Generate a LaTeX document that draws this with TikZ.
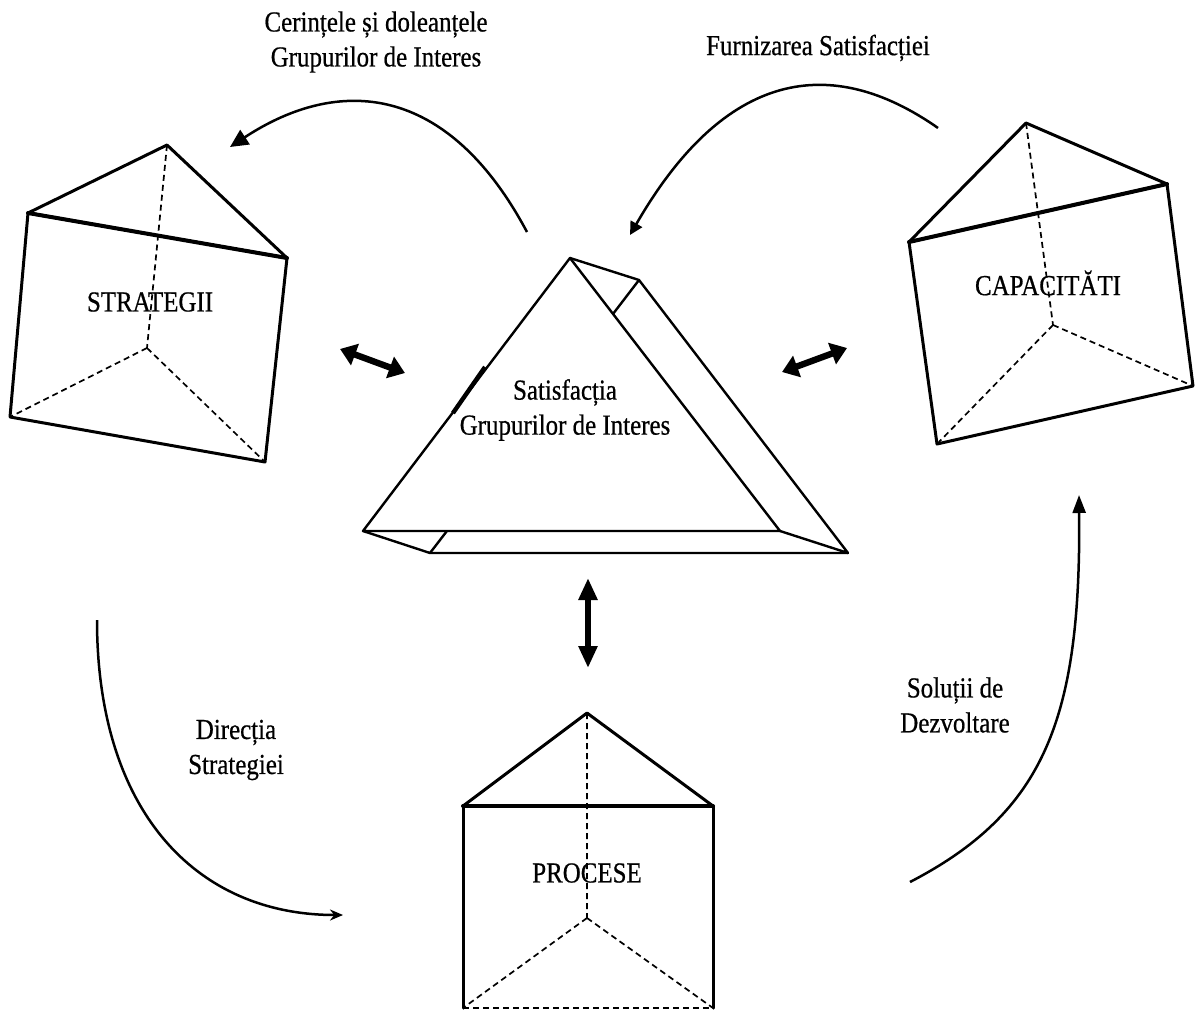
\documentclass[tikz,border=0pt]{standalone}
\usepackage{fontspec}
\setmainfont{Liberation Serif}[FakeStretch=0.86,FakeBold=0.6]
\usetikzlibrary{arrows.meta}

\begin{document}
\begin{tikzpicture}[x=0.5pt,y=-0.5pt,
  edge/.style={line width=1.5pt, line join=round, line cap=round},
  thinedge/.style={line width=1.2pt, line join=round, line cap=round},
  hidden/.style={line width=0.85pt, dash pattern=on 3pt off 2pt},
  lbl/.style={font=\fontsize{14.5}{17.5}\selectfont, align=center, inner sep=0pt},
  flow/.style={line width=1.25pt},
  link/.style={line width=3.2pt,
    {Triangle[length=8pt,width=11pt]}-{Triangle[length=8pt,width=11pt]}}]
\useasboundingbox (0,0) rectangle (1198,1011);

% ---------- STRATEGII prism ----------
\coordinate (sA)  at (167,145);
\coordinate (sL)  at (28,213);
\coordinate (sR)  at (287,258);
\coordinate (sBL) at (10,417);
\coordinate (sBR) at (265,462);
\coordinate (sB)  at (147,348);
\draw[hidden] (sA) -- (sB) (sB) -- (sBL) (sB) -- (sBR);
\draw[edge] (sA) -- (sL) -- (sR) -- cycle;
\draw[edge] (sR) -- (sBR) -- (sBL) -- (sL);
\draw[line width=2pt, line cap=round] (sL) -- (sR);

% ---------- CAPACITATI prism ----------
\coordinate (cA)  at (1026,123);
\coordinate (cL)  at (909,242);
\coordinate (cR)  at (1167,184);
\coordinate (cBL) at (937,444);
\coordinate (cBR) at (1193,386);
\coordinate (cB)  at (1053,325);
\draw[hidden] (cA) -- (cB) (cB) -- (cBL) (cB) -- (cBR);
\draw[edge] (cA) -- (cL) -- (cR) -- cycle;
\draw[edge] (cR) -- (cBR) -- (cBL) -- (cL);
\draw[line width=2pt, line cap=round] (cL) -- (cR);

% ---------- PROCESE prism ----------
\coordinate (pA)  at (587,713);
\coordinate (pL)  at (463,806);
\coordinate (pR)  at (713,806);
\coordinate (pBL) at (463,1008);
\coordinate (pBR) at (713,1008);
\coordinate (pB)  at (587,918);
\draw[hidden] (pA) -- (pB) (pB) -- (pBL) (pB) -- (pBR);
\draw[hidden, line width=1.3pt] (pBL) -- (pBR);
\draw[edge] (pA) -- (pL) -- (pR) -- cycle;
\draw[edge] (pL) -- (pBL) (pR) -- (pBR);
\draw[line width=2pt, line cap=round] (pL) -- (pR);

% ---------- central prism ----------
\coordinate (fA) at (570,258);
\coordinate (fL) at (363,531);
\coordinate (fR) at (780,531);
\coordinate (bA) at (639,280);
\coordinate (bL) at (430,553);
\coordinate (bR) at (848,553);
\draw[thinedge] (fA) -- (fL) -- (fR) -- cycle;
\draw[thinedge] (fA) -- (bA) -- (bR) -- (fR);
\draw[thinedge] (fL) -- (bL) -- (bR);
\draw[thinedge] (bA) -- (intersection of bA--bL and fA--fR);
\draw[thinedge] (bL) -- (intersection of bA--bL and fL--fR);
\draw[line width=2.2pt] (485,367) -- (453,413);

% ---------- labels ----------
\node[lbl] (tstr) at (150,302) {STRATEGII};
\node[lbl] (tcap) at (1048,283) {CAPACITĂTI};
\node[lbl] (tpro) at (587,873) {PROCESE};
\node[lbl] (tsat) at (565,410) {Satisfacția\\Grupurilor de Interes};
\node[lbl] (tcer) at (376,42) {Cerințele și doleanțele\\Grupurilor de Interes};
\node[lbl] (tfur) at (818,48) {Furnizarea Satisfacției};
\node[lbl] (tdir) at (236,750) {Direcția\\Strategiei};
\node[lbl] (tsol) at (955,705) {Soluții de\\Dezvoltare};

% ---------- two-way links ----------
\coordinate (l1) at (340,349);
\coordinate (l2) at (405,373);
\coordinate (r1) at (782,372);
\coordinate (r2) at (847,348);
\coordinate (v1) at (588,578);
\coordinate (v2) at (588,668);
\draw[link] (l1) -- (l2);
\draw[link] (r1) -- (r2);
\draw[line width=3pt,
  {Triangle[length=11pt,width=9pt]}-{Triangle[length=11pt,width=9pt]}] (v1) -- (v2);

% ---------- cycle arrows ----------
\coordinate (t1s) at (527,232);
\coordinate (t1e) at (230,147);
\coordinate (t2s) at (938,128);
\coordinate (t2e) at (630,235);
\coordinate (b1s) at (97,620);
\coordinate (b1e) at (343,915);
\coordinate (b2s) at (910,882);
\coordinate (b2e) at (1079,495);
\draw[flow, -{Triangle[length=9pt,width=8.5pt]}]
  (t1s) .. controls (447,82) and (338,76) .. (t1e);
\draw[flow, -{Triangle[length=6.5pt,width=6.5pt]}]
  (t2s) .. controls (831,53) and (725,70) .. (t2e);
\draw[flow, -{Stealth[length=6.5pt,width=5.5pt]}]
  (b1s) .. controls (97,810) and (195,915) .. (b1e);
\draw[flow, -{Triangle[length=9pt,width=6.5pt]}]
  (b2s) .. controls (1045,812) and (1081,718) .. (b2e);
\end{tikzpicture}
\end{document}
